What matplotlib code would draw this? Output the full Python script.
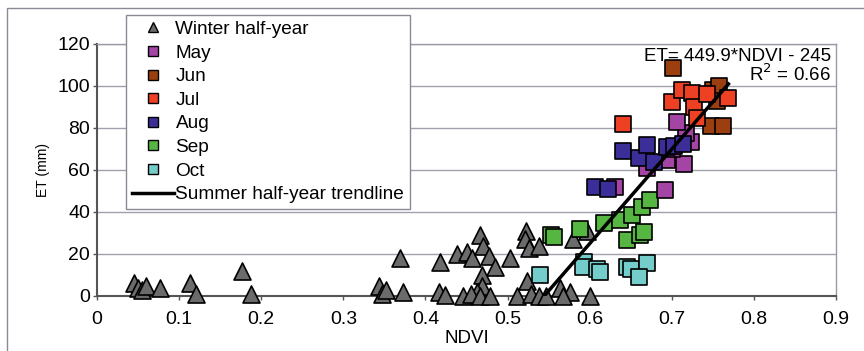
import matplotlib
matplotlib.use("Agg")
import matplotlib.pyplot as plt
from matplotlib.lines import Line2D
from matplotlib.patches import Rectangle
import numpy as np

plt.rcParams['font.family'] = ['Liberation Sans', 'DejaVu Sans']

winter_ndvi = [0.045, 0.05, 0.055, 0.06, 0.077, 0.113, 0.121, 0.177, 0.188,
               0.344, 0.347, 0.352, 0.369, 0.373,
               0.418, 0.416, 0.424, 0.438, 0.451, 0.457, 0.467, 0.470, 0.477, 0.485, 0.503,
               0.469, 0.469, 0.463, 0.446, 0.455, 0.466, 0.479, 0.512,
               0.522, 0.521, 0.526, 0.538, 0.524, 0.528, 0.538, 0.547, 0.564, 0.576, 0.568,
               0.580, 0.597, 0.600]
winter_et = [6, 4, 3, 5, 4, 6, 1, 12, 1,
             5, 1, 3, 18, 2,
             16, 2, 0.5, 20, 21, 18, 29, 24, 19, 14, 18,
             10, 5, 2, 0, 1, 0, 0, 0,
             31, 27, 23, 24, 7, 1, 0, 0, 4, 2, 0,
             27, 31, 0]

may_ndvi = [0.631, 0.670, 0.694, 0.692, 0.715, 0.723, 0.717, 0.706, 0.700]
may_et = [52, 61, 65, 50.5, 63, 73.5, 77.5, 83, 70]

jun_ndvi = [0.702, 0.750, 0.758, 0.755, 0.748, 0.762]
jun_et = [108.5, 98, 100, 93, 81, 81]

jul_ndvi = [0.641, 0.700, 0.713, 0.725, 0.727, 0.731, 0.743, 0.769]
jul_et = [82, 92.5, 98, 96.5, 90, 85, 96, 94.5]

aug_ndvi = [0.607, 0.622, 0.640, 0.660, 0.670, 0.678, 0.694, 0.703, 0.714]
aug_et = [52, 51, 69, 65.5, 72, 64, 71, 71.5, 72.5]

sep_ndvi = [0.553, 0.556, 0.588, 0.617, 0.637, 0.652, 0.664, 0.673, 0.645, 0.661, 0.666]
sep_et = [29, 28, 32, 35, 36, 38.5, 42.5, 45.5, 26.5, 29, 30.5]

oct_ndvi = [0.539, 0.593, 0.592, 0.609, 0.613, 0.645, 0.650, 0.670, 0.660]
oct_et = [10, 16, 14, 13, 11.5, 14, 13, 15.5, 9]

trend_slope = 449.9
trend_intercept = -245
trend_x = [0.545, 0.769]

x_ticks = [0, 0.1, 0.2, 0.3, 0.4, 0.5, 0.6, 0.7, 0.8, 0.9]
x_ticklabels = ['0', '0.1', '0.2', '0.3', '0.4', '0.5', '0.6', '0.7', '0.8', '0.9']
y_ticks = [0, 20, 40, 60, 80, 100, 120]

c_winter = '#6b6b6b'
c_may = '#a444a4'
c_jun = '#9c3f10'
c_jul = '#ee4022'
c_aug = '#3b2e98'
c_sep = '#55b641'
c_oct = '#74cccb'

W, H = 864, 351
fig = plt.figure(figsize=(W / 100, H / 100), dpi=100)
ax = fig.add_axes([97 / W, 1 - 296 / H, (836 - 97) / W, (296 - 44) / H])

# outer frame
fig.patches.append(Rectangle((7 / W, -0.2), 1.2, 1.2 - 8 / H, transform=fig.transFigure,
                             fill=False, edgecolor='#8a8a96', linewidth=1.0))

for yv in y_ticks[1:]:
    ax.axhline(yv, color='#a0a0ae', linewidth=1.0, zorder=0)

ax.text(0.993, 0.985, 'ET= 449.9*NDVI - 245\nR$^2$ = 0.66', transform=ax.transAxes,
        ha='right', va='top', fontsize=13.5, linespacing=0.92, zorder=1)

kw = dict(edgecolor='black', linewidths=1.2, zorder=3, clip_on=False)
ax.scatter(winter_ndvi, winter_et, marker='^', s=150, color=c_winter, **kw)
ax.scatter(oct_ndvi, oct_et, marker='s', s=125, color=c_oct, **kw)
ax.scatter(sep_ndvi, sep_et, marker='s', s=125, color=c_sep, **kw)
ax.scatter(may_ndvi, may_et, marker='s', s=125, color=c_may, **kw)
ax.scatter(aug_ndvi, aug_et, marker='s', s=125, color=c_aug, **kw)
ax.scatter(jun_ndvi, jun_et, marker='s', s=125, color=c_jun, **kw)
ax.scatter(jul_ndvi, jul_et, marker='s', s=125, color=c_jul, **kw)

tx = np.array(trend_x)
ax.plot(tx, trend_slope * tx + trend_intercept, color='black', linewidth=2.5, zorder=4)

ax.set_xlim(0, 0.9)
ax.set_ylim(0, 120)
ax.set_xticks(x_ticks)
ax.set_xticklabels(x_ticklabels)
ax.set_yticks(y_ticks)
ax.tick_params(labelsize=14, length=3, width=1, color='#555555')
ax.tick_params(axis='y', pad=2)
ax.tick_params(axis='x', pad=8)
for s in ['left', 'bottom']:
    ax.spines[s].set_color('#555555')
    ax.spines[s].set_linewidth(1.5)
for s in ['top', 'right']:
    ax.spines[s].set_color('#9a9aa6')
    ax.spines[s].set_linewidth(1.0)
ax.set_xlabel('NDVI', fontsize=13.5, labelpad=1)
ax.set_ylabel('ET (mm)', fontsize=10, labelpad=5)

handles = [
    Line2D([], [], marker='^', linestyle='none', markersize=7, markerfacecolor=c_winter, markeredgecolor='black'),
    Line2D([], [], marker='s', linestyle='none', markersize=7, markerfacecolor=c_may, markeredgecolor='black'),
    Line2D([], [], marker='s', linestyle='none', markersize=7, markerfacecolor=c_jun, markeredgecolor='black'),
    Line2D([], [], marker='s', linestyle='none', markersize=7, markerfacecolor=c_jul, markeredgecolor='black'),
    Line2D([], [], marker='s', linestyle='none', markersize=7, markerfacecolor=c_aug, markeredgecolor='black'),
    Line2D([], [], marker='s', linestyle='none', markersize=7, markerfacecolor=c_sep, markeredgecolor='black'),
    Line2D([], [], marker='s', linestyle='none', markersize=7, markerfacecolor=c_oct, markeredgecolor='black'),
    Line2D([], [], color='black', linewidth=2.5),
]
labels = ['Winter half-year', 'May', 'Jun', 'Jul', 'Aug', 'Sep', 'Oct', 'Summer half-year trendline']
leg = fig.legend(handles, labels, loc='upper left', bbox_to_anchor=(126 / W, 1 - 15 / H),
                 fontsize=13.7, frameon=True, fancybox=False, framealpha=1, edgecolor='#8a8a96',
                 borderpad=0.3, labelspacing=0.33, handlelength=2.2, handletextpad=0.1,
                 borderaxespad=0)
leg.get_frame().set_linewidth(1.0)
leg.set_zorder(10)

fig.savefig('out.png', dpi=100)
